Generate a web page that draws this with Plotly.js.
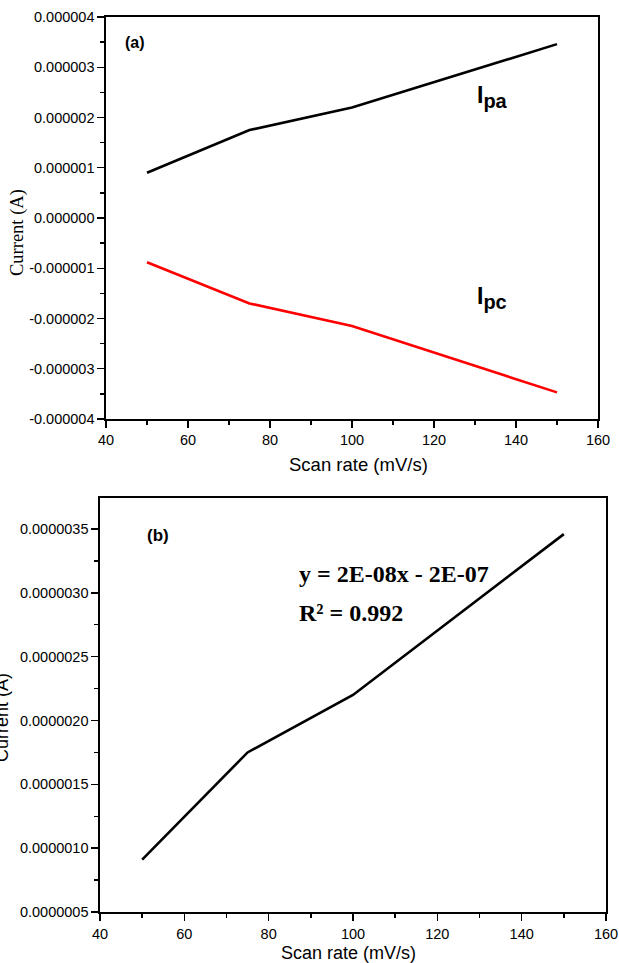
<!DOCTYPE html>
<html>
<head>
<meta charset="utf-8">
<script src="https://cdn.plot.ly/plotly-3.0.1.min.js"></script>
<style>html,body{margin:0;padding:0;background:#fff;}#chart{width:619px;height:963px;}</style>
</head>
<body>
<div id="chart"></div>
<script>
// ---- data ----
const scanRate = [50, 75, 100, 150];
const ipa = [0.90e-6, 1.75e-6, 2.20e-6, 3.46e-6];
const ipc = [-0.88e-6, -1.70e-6, -2.15e-6, -3.47e-6];
const ipaFit = [0.91e-6, 1.75e-6, 2.20e-6, 3.46e-6];

const xTickVals = [40, 60, 80, 100, 120, 140, 160];
const xTickText = ['40', '60', '80', '100', '120', '140', '160'];
const yaTickVals = [-4e-6, -3e-6, -2e-6, -1e-6, 0, 1e-6, 2e-6, 3e-6, 4e-6];
const yaTickText = ['-0.000004', '-0.000003', '-0.000002', '-0.000001', '0.000000', '0.000001', '0.000002', '0.000003', '0.000004'];
const ybTickVals = [0.5e-6, 1.0e-6, 1.5e-6, 2.0e-6, 2.5e-6, 3.0e-6, 3.5e-6];
const ybTickText = ['0.0000005', '0.0000010', '0.0000015', '0.0000020', '0.0000025', '0.0000030', '0.0000035'];

const W = 619, H = 963;
const px = v => v / W;
const py = v => 1 - v / H;

const sans = 'Liberation Sans, Arial, sans-serif';
const serif = 'Liberation Serif, Times New Roman, serif';

const traces = [
  {x: scanRate, y: ipa, xaxis: 'x', yaxis: 'y', mode: 'lines', line: {color: '#000000', width: 2.6}},
  {x: scanRate, y: ipc, xaxis: 'x', yaxis: 'y', mode: 'lines', line: {color: '#ff0000', width: 2.6}},
  {x: scanRate, y: ipaFit, xaxis: 'x2', yaxis: 'y2', mode: 'lines', line: {color: '#000000', width: 2.6}}
];

function xAxis(domain, anchor, standoff) {
  return {
    domain: domain, anchor: anchor, range: [40, 160],
    tickvals: xTickVals, ticktext: xTickText,
    ticks: 'outside', ticklen: 7, tickwidth: 1.4, tickcolor: '#000',
    ticklabelstandoff: standoff,
    minor: {ticks: 'outside', ticklen: 4, tickwidth: 1.4, tickcolor: '#000', dtick: 10, tick0: 40},
    showline: true, linecolor: '#000', linewidth: 1.6, mirror: true,
    showgrid: false, zeroline: false,
    tickfont: {family: sans, size: 14.5, color: '#000'}
  };
}
function yAxis(domain, anchor, range, vals, text, minorD) {
  return {
    domain: domain, anchor: anchor, range: range,
    tickvals: vals, ticktext: text,
    ticks: 'outside', ticklen: 7, tickwidth: 1.4, tickcolor: '#000',
    minor: {ticks: 'outside', ticklen: 4, tickwidth: 1.4, tickcolor: '#000', dtick: minorD, tick0: 0},
    showline: true, linecolor: '#000', linewidth: 1.6, mirror: true,
    showgrid: false, zeroline: false,
    tickfont: {family: sans, size: 14.5, color: '#000'}
  };
}

const layout = {
  width: W, height: H,
  margin: {l: 0, r: 0, t: 0, b: 0},
  paper_bgcolor: '#fff', plot_bgcolor: '#fff',
  showlegend: false,
  xaxis: xAxis([px(106), px(598)], 'y', 0),
  yaxis: yAxis([py(419), py(17)], 'x', [-4e-6, 4e-6], yaTickVals, yaTickText, 0.5e-6),
  xaxis2: xAxis([px(100), px(606)], 'y2', 1),
  yaxis2: yAxis([py(912), py(498)], 'x2', [0.5e-6, 3.743e-6], ybTickVals, ybTickText, 0.25e-6),
  annotations: [
    {xref: 'paper', yref: 'paper', x: px(358), y: py(465), text: 'Scan rate (mV/s)', showarrow: false,
     font: {family: sans, size: 18.5, color: '#000'}, xanchor: 'center', yanchor: 'middle'},
    {xref: 'paper', yref: 'paper', x: px(348), y: py(953), text: 'Scan rate (mV/s)', showarrow: false,
     font: {family: sans, size: 18, color: '#000'}, xanchor: 'center', yanchor: 'middle'},
    {xref: 'paper', yref: 'paper', x: px(17), y: py(233), text: 'Current (A)', textangle: -90, showarrow: false,
     font: {family: serif, size: 18.5, color: '#000'}, xanchor: 'center', yanchor: 'middle'},
    {xref: 'paper', yref: 'paper', x: px(2), y: py(718), text: 'Current (A)', textangle: -90, showarrow: false,
     font: {family: sans, size: 18, color: '#000'}, xanchor: 'center', yanchor: 'middle'},
    {xref: 'paper', yref: 'paper', x: px(135), y: py(42), text: '<b>(a)</b>', showarrow: false,
     font: {family: sans, size: 16, color: '#000'}, xanchor: 'center', yanchor: 'middle'},
    {xref: 'paper', yref: 'paper', x: px(158), y: py(535), text: '<b>(b)</b>', showarrow: false,
     font: {family: sans, size: 17, color: '#000'}, xanchor: 'center', yanchor: 'middle'},
    {xref: 'x', yref: 'y', x: 130, y: 2.41e-6, text: '<b>I<sub><span style="font-size:20px">pa</span></sub></b>', showarrow: false,
     font: {family: sans, size: 23, color: '#000'}, xanchor: 'left', yanchor: 'middle'},
    {xref: 'x', yref: 'y', x: 130, y: -1.6e-6, text: '<b>I<sub><span style="font-size:20px">pc</span></sub></b>', showarrow: false,
     font: {family: sans, size: 23, color: '#000'}, xanchor: 'left', yanchor: 'middle'},
    {xref: 'paper', yref: 'paper', x: px(297), y: py(574), text: '<b>y = 2E-08x - 2E-07</b>', showarrow: false,
     font: {family: serif, size: 24, color: '#000'}, xanchor: 'left', yanchor: 'middle'},
    {xref: 'paper', yref: 'paper', x: px(297), y: py(613), text: '<b>R² = 0.992</b>', showarrow: false,
     font: {family: serif, size: 24, color: '#000'}, xanchor: 'left', yanchor: 'middle'}
  ]
};

Plotly.newPlot('chart', traces, layout, {staticPlot: true, displayModeBar: false});
</script>
</body>
</html>
